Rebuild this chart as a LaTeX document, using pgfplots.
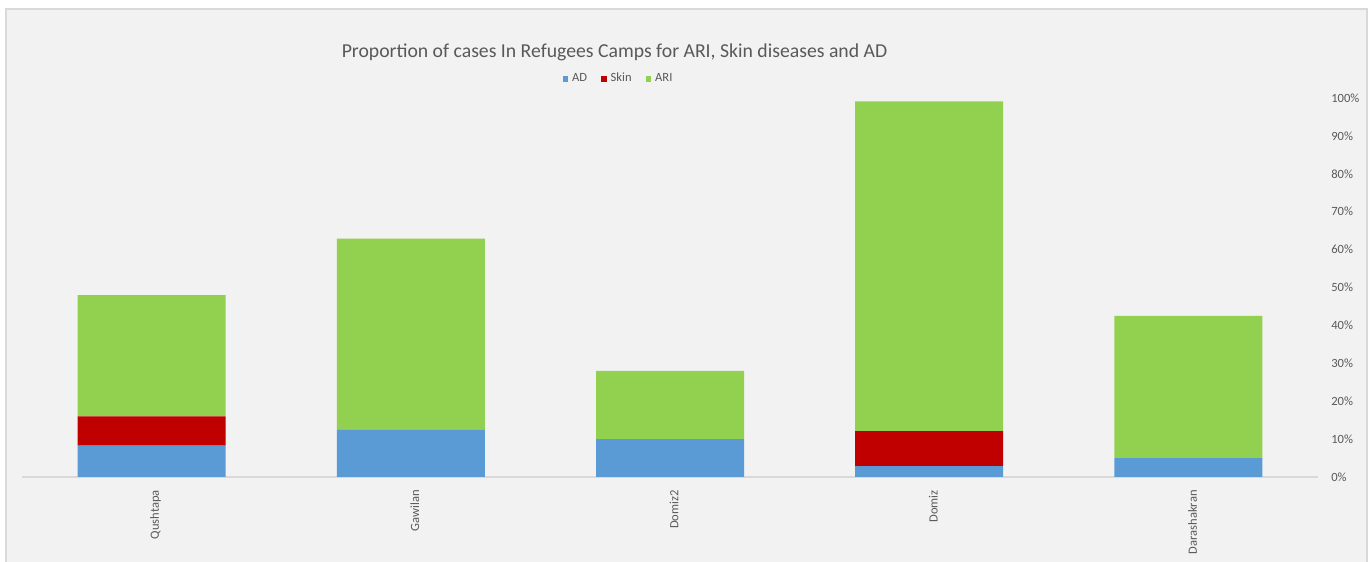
\documentclass[border=0pt]{standalone}
\usepackage{fontspec}
\setmainfont{Carlito}
\usepackage{pgfplots}
\pgfplotsset{compat=1.18}
\definecolor{bg}{HTML}{F2F2F2}
\definecolor{frame}{HTML}{D9D9D9}
\definecolor{txt}{HTML}{595959}
\definecolor{axisgray}{HTML}{D9D9D9}
\definecolor{ad}{HTML}{5B9BD5}
\definecolor{skin}{HTML}{C00000}
\definecolor{ari}{HTML}{92D050}
\begin{document}
\begin{tikzpicture}[x=0.5bp,y=0.5bp]
\useasboundingbox (0,0) rectangle (1370,562);
\fill[white] (0,0) rectangle (1370,562);
\filldraw[fill=bg, draw=frame, line width=0.8bp] (6,-5) rectangle (1367,553);
\node[text=txt, font=\fontsize{9.9}{11}\selectfont, anchor=base] at (614.5,504) {Proportion of cases In Refugees Camps for ARI, Skin diseases and AD};
\begin{axis}[
  at={(11bp,42.5bp)}, anchor=south west,
  scale only axis, width=648bp, height=189.5bp,
  ybar stacked, bar width=74bp,
  xmin=-0.5, xmax=4.5, ymin=0, ymax=100,
  axis x line=bottom, axis y line=right,
  x axis line style={draw=axisgray, line width=0.75bp, -},
  y axis line style={draw=none},
  xtick={0,1,2,3,4},
  xticklabels={Qushtapa,Gawilan,Domiz2,Domiz,Darashakran},
  x tick label style={rotate=90, anchor=east, font=\fontsize{6.3}{7}\selectfont, text=txt, yshift=-2bp, xshift=-1bp},
  xtick style={draw=none},
  ytick={0,10,...,100},
  yticklabels={0\%,10\%,20\%,30\%,40\%,50\%,60\%,70\%,80\%,90\%,100\%},
  y tick label style={anchor=west, font=\fontsize{6.3}{7}\selectfont, text=txt, xshift=1bp},
  ytick style={draw=none},
  legend style={at={(rel axis cs:0.461,1.05)}, anchor=center, draw=none, fill=none,
    legend columns=3, font=\fontsize{6.3}{7}\selectfont, text=txt,
    /tikz/every even column/.append style={column sep=5bp}},
]
\addplot[fill=ad, draw=none, legend image code/.code={\fill[ad] (0bp,-1.4bp) rectangle (2.8bp,1.4bp);}] coordinates {(0,8.3) (1,12.4) (2,10.0) (3,2.9) (4,5.0)};
\addplot[fill=skin, draw=none, legend image code/.code={\fill[skin] (0bp,-1.4bp) rectangle (2.8bp,1.4bp);}] coordinates {(0,7.7) (1,0) (2,0) (3,9.2) (4,0)};
\addplot[fill=ari, draw=none, legend image code/.code={\fill[ari] (0bp,-1.4bp) rectangle (2.8bp,1.4bp);}] coordinates {(0,32.0) (1,50.5) (2,18.0) (3,87.0) (4,37.5)};
\legend{AD,Skin,ARI}
\end{axis}
\end{tikzpicture}
\end{document}
